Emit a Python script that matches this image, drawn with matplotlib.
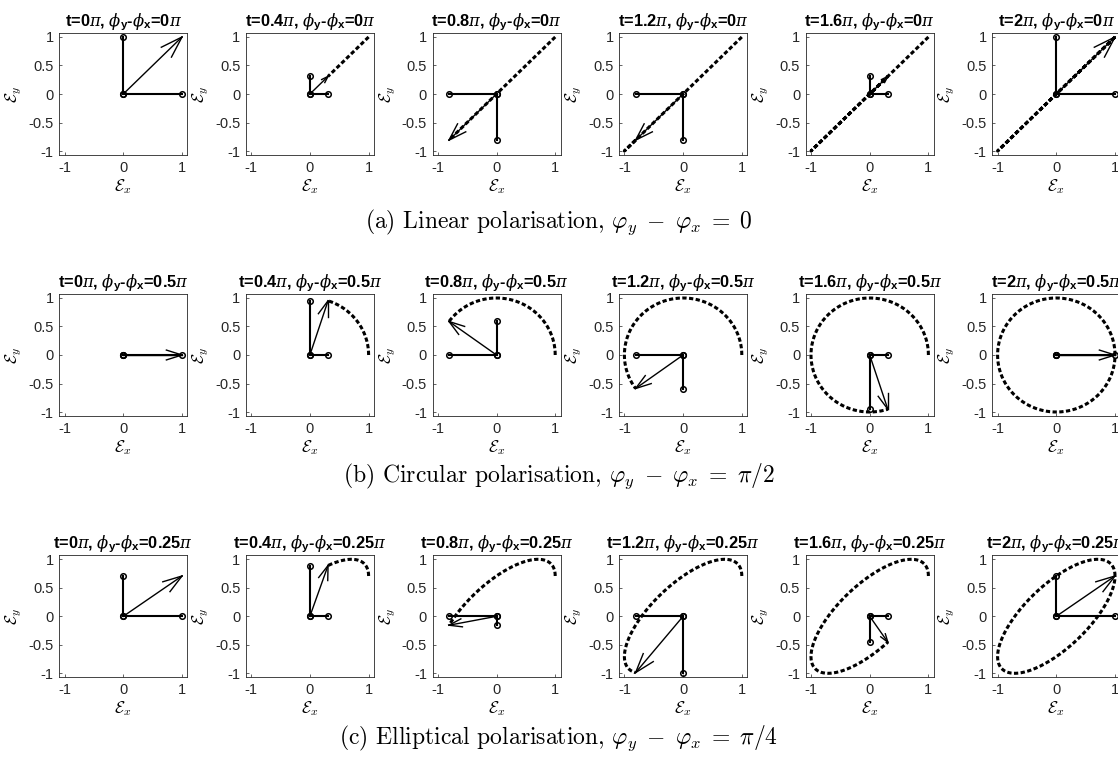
import numpy as np
import matplotlib
matplotlib.use("Agg")
import matplotlib.pyplot as plt
from matplotlib.ticker import FixedLocator, FixedFormatter

# field amplitudes and snapshot times (in units of pi)
amp_x = 1.0
amp_y = 1.0
times = [0, 0.4, 0.8, 1.2, 1.6, 2.0]
time_labels = ['0', '0.4', '0.8', '1.2', '1.6', '2']
phase_diffs = [0, 0.5, 0.25]          # phi_y - phi_x in units of pi
phase_labels = ['0', '0.5', '0.25']
captions = [r'(a) Linear polarisation, $\varphi_y \;-\; \varphi_x \;=\; 0$',
            r'(b) Circular polarisation, $\varphi_y \;-\; \varphi_x \;=\; \pi/2$',
            r'(c) Elliptical polarisation, $\varphi_y \;-\; \varphi_x \;=\; \pi/4$']
xticks = [-1, 0, 1]
xtick_labels = ['-1', '0', '1']
yticks = [-1, -0.5, 0, 0.5, 1]
ytick_labels = ['-1', '-0.5', '0', '0.5', '1']

plt.rcParams['font.family'] = ['Liberation Sans', 'DejaVu Sans']
plt.rcParams['mathtext.fontset'] = 'custom'
plt.rcParams['mathtext.rm'] = 'Liberation Sans:bold'
plt.rcParams['mathtext.bf'] = 'Liberation Sans:bold'
plt.rcParams['mathtext.it'] = 'DejaVu Serif:italic'
plt.rcParams['mathtext.sf'] = 'Liberation Sans'

W, H = 1118, 761
fig = plt.figure(figsize=(W / 100, H / 100), dpi=100)

row_bottom = [155, 416, 677.3]
caption_y = [222, 476, 738]
ax_w, ax_h = 128, 122

for r, dphi in enumerate(phase_diffs):
    for c, t in enumerate(times):
        left = 59.3 + c * 186.6
        ax = fig.add_axes([left / W, 1 - row_bottom[r] / H, ax_w / W, ax_h / H])

        # trace of the field tip from 0 to t
        tau = np.linspace(0, t * np.pi, 300)
        tx = amp_x * np.cos(tau)
        ty = amp_y * np.cos(tau - dphi * np.pi)
        ax.plot(tx, ty, color='k', lw=2.2, linestyle=(0, (1.4, 0.8)))

        ex = amp_x * np.cos(t * np.pi)
        ey = amp_y * np.cos(t * np.pi - dphi * np.pi)

        # components
        ax.plot([0, ex], [0, 0], '-o', color='k', lw=1.5, ms=4,
                mfc='none', mew=1.1)
        ax.plot([0, 0], [0, ey], '-o', color='k', lw=1.5, ms=4,
                mfc='none', mew=1.1)

        # total field vector with open head
        ax.plot([0, ex], [0, ey], color='k', lw=1.0)
        L = np.hypot(ex, ey)
        ang = np.arctan2(ey, ex)
        hl = 0.28 * L
        for s in (1, -1):
            a = ang + np.pi - s * np.deg2rad(18)
            ax.plot([ex, ex + hl * np.cos(a)], [ey, ey + hl * np.sin(a)],
                    color='k', lw=1.0)

        ax.set_xlim(-1.09, 1.09)
        ax.set_ylim(-1.07, 1.07)
        ax.xaxis.set_major_locator(FixedLocator(xticks))
        ax.xaxis.set_major_formatter(FixedFormatter(xtick_labels))
        ax.yaxis.set_major_locator(FixedLocator(yticks))
        ax.yaxis.set_major_formatter(FixedFormatter(ytick_labels))
        ax.tick_params(direction='in', length=2.5, width=0.5, colors='0.15',
                       labelsize=10.5, pad=4)
        for sp in ax.spines.values():
            sp.set_color('0.15')
            sp.set_linewidth(0.6)

        ax.set_xlabel(r'$\mathcal{E}_x$', fontsize=12, math_fontfamily='cm',
                      labelpad=2)
        ax.set_ylabel(r'$\mathcal{E}_y$', fontsize=12, math_fontfamily='cm',
                      labelpad=3)
        ax.set_title(rf't={time_labels[c]}$\pi$, $\phi_\mathbf{{y}}$-$\phi_\mathbf{{x}}$'
                     rf'={phase_labels[r]}$\pi$',
                     fontsize=11.8, fontweight='bold', pad=5)

    fig.text(0.5, 1 - caption_y[r] / H, captions[r], ha='center', va='center',
             fontsize=17, family='cmr10', math_fontfamily='cm')

fig.savefig('out.png', dpi=100)
